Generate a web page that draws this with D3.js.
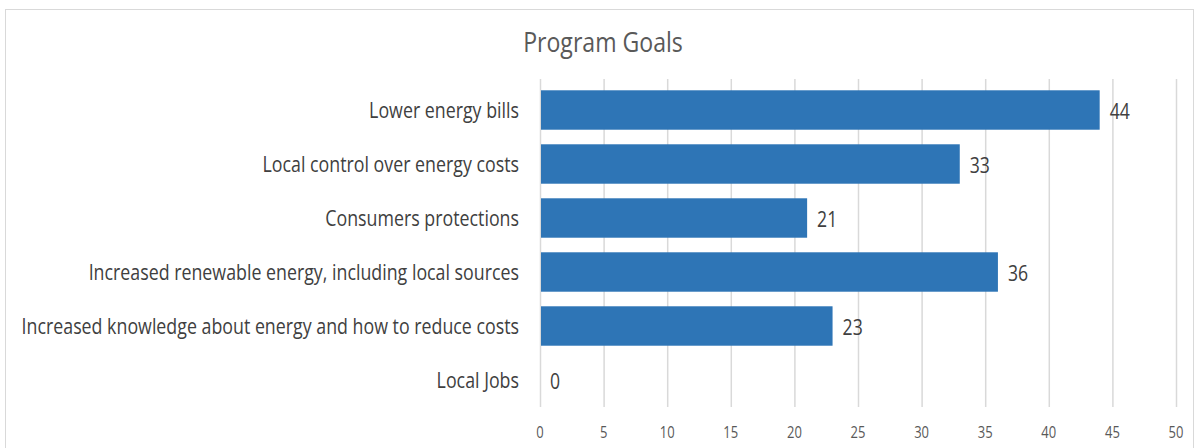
<!doctype html>
<html>
<head>
    <meta charset="utf-8"/>
    <style>
        html, body { margin: 0; padding: 0; background: #fff; }
        svg { display: block; font-family: "Open Sans", sans-serif; }
    </style>
    <script src="https://d3js.org/d3.v7.min.js"></script>
</head>
<body>
<svg id="chart" width="1199" height="448"></svg>
<script>
    // chart data
    var categories = [
        "Lower energy bills",
        "Local control over energy costs",
        "Consumers protections",
        "Increased renewable energy, including local sources",
        "Increased knowledge about energy and how to reduce costs",
        "Local Jobs"
    ];
    var values = [44, 33, 21, 36, 23, 0];
    var tickValues = [0, 5, 10, 15, 20, 25, 30, 35, 40, 45, 50];
    var title = "Program Goals";

    var svg = d3.select("#chart");
    var squeeze = 0.84; // the source text is horizontally narrow

    // chart frame
    svg.append("rect")
        .attr("x", 5.5).attr("y", 9.5)
        .attr("width", 1188).attr("height", 460)
        .attr("fill", "none")
        .attr("stroke", "#d9d9d9");

    var x = d3.scaleLinear().domain([0, 50]).range([540, 1176]);
    var y = d3.scaleBand().domain(categories).range([83, 407]).paddingInner(0.27).paddingOuter(0.135);

    function squeezedText(g, px, py, txt, size, fill, anchor) {
        g.append("g")
            .attr("transform", "translate(" + px + "," + py + ") scale(" + squeeze + ",1)")
            .append("text")
            .attr("text-anchor", anchor)
            .attr("dominant-baseline", "central")
            .attr("font-size", size)
            .attr("fill", fill)
            .text(txt);
    }

    // title
    squeezedText(svg, 603, 41, title, 27.5, "#595959", "middle");

    // gridlines
    svg.append("g").selectAll("line")
        .data(tickValues).enter()
        .append("line")
        .attr("x1", function(d) { return x(d) + 0.5; })
        .attr("x2", function(d) { return x(d) + 0.5; })
        .attr("y1", 79).attr("y2", 407)
        .attr("stroke", "#d9d9d9")
        .attr("stroke-width", 1.5);

    // tick labels
    var ticks = svg.append("g");
    tickValues.forEach(function(t) {
        squeezedText(ticks, x(t), 432, t, 15.5, "#595959", "middle");
    });

    // bars
    svg.append("g").selectAll("rect")
        .data(values).enter()
        .append("rect")
        .attr("x", x(0) + 1)
        .attr("y", function(d, i) { return y(categories[i]); })
        .attr("width", function(d) { return Math.max(0, x(d) - x(0) - 1); })
        .attr("height", y.bandwidth())
        .attr("fill", "#2e75b6");

    // category labels
    var cats = svg.append("g");
    categories.forEach(function(c) {
        squeezedText(cats, 519, y(c) + y.bandwidth() / 2, c, 21.2, "#404040", "end");
    });

    // value labels
    var vals = svg.append("g");
    values.forEach(function(v, i) {
        squeezedText(vals, x(v) + 10, y(categories[i]) + y.bandwidth() / 2 + 1, v, 21, "#404040", "start");
    });
</script>
</body>
</html>
